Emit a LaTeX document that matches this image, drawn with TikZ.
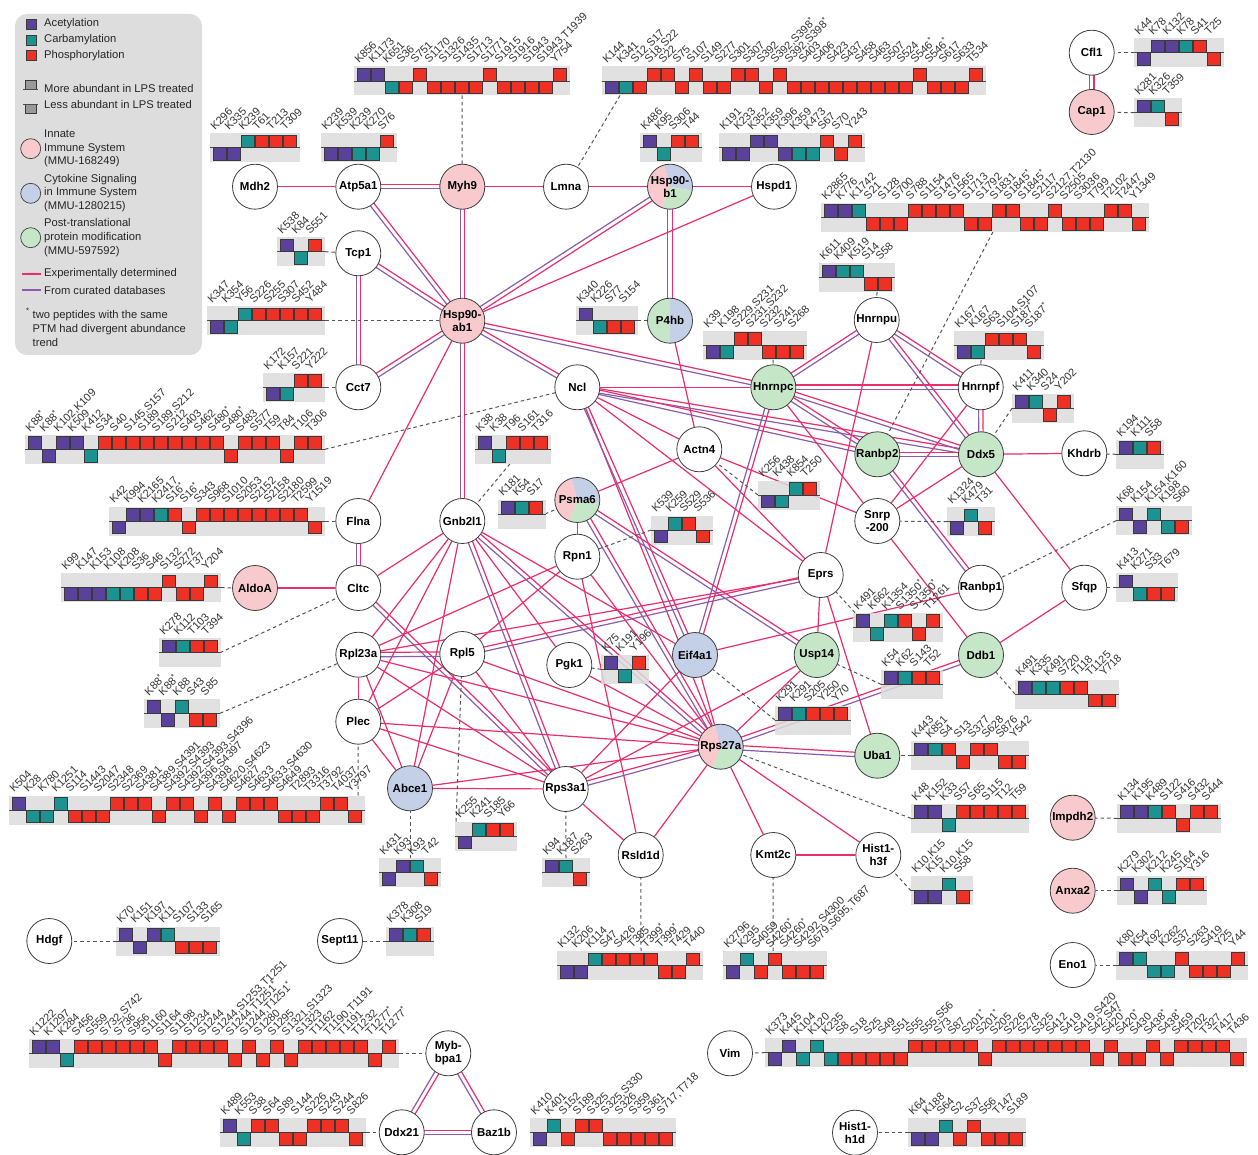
\documentclass[tikz,border=0pt]{standalone}
\usepackage{fontspec}
\setmainfont{Liberation Sans}
\usetikzlibrary{calc}
\pgfdeclarelayer{bg}
\pgfsetlayers{bg,main}
\definecolor{A}{HTML}{5A4199}
\definecolor{C}{HTML}{1A9391}
\definecolor{P}{HTML}{EE3124}
\definecolor{bargray}{HTML}{DCDCDC}
\definecolor{legendgray}{HTML}{DDDDDD}
\definecolor{npink}{HTML}{F8CACD}
\definecolor{nblue}{HTML}{C4CFE8}
\definecolor{ngreen}{HTML}{C6E7C7}
\definecolor{epink}{HTML}{EA2D6C}
\definecolor{epurple}{HTML}{8A5CB0}
\definecolor{nborder}{HTML}{3F3F3F}
\definecolor{dashgray}{HTML}{555555}
\definecolor{lblgray}{HTML}{333333}
\definecolor{boxedge}{HTML}{3A3A3A}
\newcommand\astr{\textsuperscript{*}}
\newcommand\nodefont{\bfseries\fontsize{11.5}{13}\selectfont}
\newcommand\lblfont{\fontsize{11}{11}\selectfont}
\newcommand\legfont{\fontsize{11.2}{13.8}\selectfont}
\tikzset{
 nd/.style={circle, draw=nborder, line width=0.8pt, fill=white, minimum size=45pt, inner sep=0pt, font=\nodefont, align=center, text=black},
 lbl/.style={font=\lblfont, text=lblgray, inner sep=0pt, anchor=base west, rotate=45},
 midln/.style={draw=black!70, line width=0.7pt},
 pinkE/.style={draw=epink, line width=1.2pt},
 purpE/.style={draw=epurple, line width=1.2pt},
 dsh/.style={draw=dashgray, line width=1pt, dash pattern=on 3.5pt off 3pt},
 legtxt/.style={font=\legfont, anchor=west, inner sep=0pt, text=black!85, align=left}
}
\newcommand\ptmbar[4]{%
  \fill[bargray, fill opacity=0.85] (#1,{#2-14.5}) rectangle ++({#3*14+6},29);
  \draw[midln] (#1,#2) -- ++({#3*14+6},0);
  \foreach \ty/\po/\la [count=\ix] in {#4} {%
    \filldraw[fill=\ty, draw=boxedge, line width=0.6pt] ({#1+3.7+(\ix-1)*14},{#2-12.6*\po}) rectangle ++(12.6,12.6);
    \node[lbl] at ({#1+5+(\ix-1)*14},{#2-17}) {\la};
  }%
}
\newcommand\trisect[2]{%
 \fill[nblue] (#1,#2) -- ++(10:22.5) arc[start angle=10, end angle=-105, radius=22.5] -- cycle;
 \fill[npink] (#1,#2) -- ++(-105:22.5) arc[start angle=-105, end angle=-250, radius=22.5] -- cycle;
 \fill[ngreen] (#1,#2) -- ++(-250:22.5) arc[start angle=-250, end angle=-350, radius=22.5] -- cycle;}
\newcommand\halfsect[2]{%
 \fill[ngreen] (#1,#2) -- ++(-90:22.5) arc[start angle=-90, end angle=-270, radius=22.5] -- cycle;
 \fill[nblue] (#1,#2) -- ++(90:22.5) arc[start angle=90, end angle=-90, radius=22.5] -- cycle;}
\newcommand\EP[2]{\draw[pinkE] (#1) -- (#2);}
\newcommand\EU[2]{\draw[purpE] (#1) -- (#2);}
\newcommand\EB[2]{\draw[pinkE] ($(#1)!2.2pt!90:(#2)$) -- ($(#2)!2.2pt!-90:(#1)$);
 \draw[purpE] ($(#1)!2.2pt!-90:(#2)$) -- ($(#2)!2.2pt!90:(#1)$);}
\newcommand\dconn[4]{\coordinate (#1) at (#2,#3); \draw[dsh] (#1) -- (#4);}
\begin{document}
\begin{tikzpicture}[x=1pt,y=-1pt]
\useasboundingbox (0,0) rectangle (1258,1155);
\begin{pgfonlayer}{bg}
\fill[white] (0,0) rectangle (1258,1155);
\end{pgfonlayer}
% ---------------- legend
\fill[legendgray, rounded corners=12pt] (15,14) rectangle (202,355);
\filldraw[fill=A, draw=boxedge, line width=0.6pt] (26,19.3) rectangle (36,29.3);
\node[legtxt] (lgA) at (44,24) {Acetylation};
\filldraw[fill=C, draw=boxedge, line width=0.6pt] (26,35) rectangle (36,45);
\node[legtxt] (lgC) at (44,40) {Carbamylation};
\filldraw[fill=P, draw=boxedge, line width=0.6pt] (26,50.5) rectangle (36,60.5);
\node[legtxt] (lgP) at (44,55.5) {Phosphorylation};
\filldraw[fill=black!40, draw=boxedge, line width=0.6pt] (25.5,80) rectangle (36,89.3);
\draw[midln] (23,89.3) -- (38,89.3);
\node[legtxt] (lgM) at (44,89) {More abundant in LPS treated};
\filldraw[fill=black!40, draw=boxedge, line width=0.6pt] (25.5,104) rectangle (36,113.3);
\draw[midln] (23,104) -- (38,104);
\node[legtxt] (lgL) at (44,104.3) {Less abundant in LPS treated};
\filldraw[fill=npink, draw=nborder, line width=0.7pt] (30.7,148.7) circle[radius=10];
\node[legtxt] (lg1) at (44,148.5) {Innate\\Immune System\\(MMU-168249)};
\filldraw[fill=nblue, draw=nborder, line width=0.7pt] (30.7,193.3) circle[radius=10];
\node[legtxt] (lg2) at (44,193) {Cytokine Signaling\\in Immune System\\(MMU-1280215)};
\filldraw[fill=ngreen, draw=nborder, line width=0.7pt] (30.7,237.7) circle[radius=10];
\node[legtxt] (lg3) at (44,237.7) {Post-translational\\protein modification\\(MMU-597592)};
\draw[pinkE] (22,274) -- (41,274);
\node[legtxt] (lg4) at (44,274) {Experimentally determined};
\draw[purpE] (22,290) -- (41,290);
\node[legtxt] (lg5) at (44,290) {From curated databases};
\node[legtxt] (lg6) at (26,313) {\textsuperscript{*}};
\node[legtxt] (lg7) at (32.5,328.5) {two peptides with the same\\PTM had divergent abundance\\trend};
% ---------------- PTM bars
\ptmbar{210}{147.7}{6}{A/0/K296,A/0/K335,C/1/K239,P/1/T61,P/1/T213,P/1/T309}
\ptmbar{321}{147.7}{5}{A/0/K239,A/0/K539,C/0/K239,C/0/K270,P/1/S76}
\ptmbar{354}{81}{15}{A/1/K856,A/1/K1173,C/0/K651,P/0/S36,P/1/S751,P/0/S1170,P/0/S1326,P/0/S1435,P/0/S1713,P/1/S1771,P/0/S1915,P/0/S1916,P/0/S1943,P/0/{S1943,T1939},P/1/Y754}
\ptmbar{602}{81}{27}{A/0/K144,C/0/K341,P/0/{S12,S17},P/1/{S18,S22},P/1/S22,P/0/S75,P/1/S107,P/0/S149,P/0/S277,P/1/S301,P/1/S307,P/0/S392,P/1/{S392,S398\astr},P/0/{S392,S398\astr},P/0/S403,P/0/S406,P/0/S423,P/0/S437,P/0/S458,P/0/S463,P/0/S507,P/0/S524,P/1/S546\astr,P/0/S546\astr,P/0/S617,P/0/S633,P/1/T534}
\ptmbar{640}{147.7}{4}{A/1/K486,C/0/K95,P/1/S306,P/1/T44}
\ptmbar{719}{147.7}{10}{A/0/K191,A/0/K233,A/1/K352,A/1/K359,A/0/K396,C/0/K359,C/0/K473,P/1/S67,P/0/S70,P/1/Y243}
\ptmbar{1134}{52.7}{6}{A/0/K44,A/1/K78,A/1/K132,C/1/K78,P/1/S41,P/0/T25}
\ptmbar{1134}{112.7}{3}{A/1/K281,C/1/K326,P/0/T359}
\ptmbar{277}{251.7}{3}{A/1/K538,C/0/K84,P/1/S551}
\ptmbar{207}{320.7}{8}{A/0/K347,C/0/K354,C/1/Y56,P/1/S226,P/1/S255,P/1/S307,P/1/S452,P/1/Y484}
\ptmbar{263}{387.3}{4}{A/0/K172,C/0/K157,P/1/S221,P/1/Y222}
\ptmbar{25}{449.3}{21}{A/1/K88\astr,A/0/K88\astr,A/1/{K102,K109},A/1/K509,C/0/K412,P/1/S34,P/1/S40,P/1/{S145,S157},P/1/S189,P/1/{S189,S212},P/1/S212,P/1/S403,P/1/S462,P/1/S480\astr,P/0/S480\astr,P/1/S483,P/1/S577,P/1/T59,P/0/T84,P/1/T106,P/1/T306}
\ptmbar{109}{521}{15}{A/0/K42,A/1/K994,A/1/K2165,C/1/K2417,P/1/S16\astr,P/0/S16\astr,P/1/S343,P/1/S968,P/1/S1010,P/1/S2053,P/1/S2152,P/1/S2158,P/1/S2180,P/1/T2599,P/0/Y1519}
\ptmbar{61}{587.7}{11}{A/0/K99,A/0/K147,A/0/K153,C/0/K108,C/0/K208,P/0/S36,P/0/S46,P/1/S132,P/0/S272,P/0/T37,P/1/Y204}
\ptmbar{159}{652.7}{4}{A/1/K278,C/1/K112,P/1/T103,P/1/T394}
\ptmbar{144}{713.3}{5}{A/1/K88\astr,A/0/K88\astr,C/1/K88,P/0/S43,P/0/S85}
\ptmbar{9}{810}{25}{A/1/K504,C/0/K28,C/0/K780,C/1/K1251,P/0/S114,P/0/S1443,P/0/S2047,P/1/S2348,P/1/S2369,P/1/S4381,P/0/{S4389,S4391},P/1/{S4392,S4393},P/1/{S4392,S4393,S4396},P/0/{S4396,S4397},P/1/S4398,P/0/{S4620,S4623},P/1/S4627,P/1/S4633,P/1/{S4633,S4630},P/0/S4649,P/0/T2893,P/0/T3316,P/1/T3792,P/1/T4037,P/0/Y3797}
\ptmbar{379}{872.7}{4}{A/0/K431,A/1/K93,C/1/K93,P/0/T42}
\ptmbar{455}{836}{4}{A/0/K255,C/1/K241,P/1/S185,P/1/Y66}
\ptmbar{542}{872.7}{3}{A/1/K94,C/1/K187,P/0/S263}
\ptmbar{386}{941}{3}{A/1/K378,C/1/K308,P/1/S19}
\ptmbar{116}{941}{7}{A/1/K70,A/0/K151,A/1/K197,C/1/K11,P/0/S107,P/0/S133,P/0/S165}
\ptmbar{29}{1053.3}{26}{A/1/K1222,A/1/K1297,C/0/K284,P/1/S456,P/1/S559,P/1/{S732,S742},P/1/S736,P/1/S956,P/1/S1160,P/0/S1164,P/1/S1198,P/1/S1234,P/1/S1244,P/1/{S1244,S1253,T1251},P/0/{S1244,T1251\astr},P/1/{S1244,T1251\astr},P/0/S1280,P/1/S1295,P/0/{S1321,S1323},P/1/S1323,P/1/T1162,P/1/{T1190,T1191},P/1/T1191,P/1/T1232,P/0/T1277\astr,P/1/T1277\astr}
\ptmbar{220}{1132.3}{10}{A/1/K489,C/0/K553,P/1/S38,P/1/S64,P/0/S89,P/0/S144,P/1/S226,P/1/S243,P/1/S244,P/0/S826}
\ptmbar{530}{1132.3}{10}{A/0/K410,C/1/K401,P/0/S152,P/1/S189,P/1/S325,P/0/{S325,S330},P/0/S326,P/0/S359,P/0/S361,P/0/{S717,T718}}
\ptmbar{557}{965.7}{10}{A/0/K132,A/0/K206,C/1/K114,P/1/S47,P/1/S426,P/1/T385,P/1/T399\astr,P/0/T399\astr,P/0/T429,P/1/T440}
\ptmbar{723}{965.7}{7}{A/0/K2796,C/1/K295,P/0/S4059,P/1/S4260\astr,P/0/S4260\astr,P/0/{S4292,S4300},P/0/{S679,S695,T687}}
\ptmbar{911}{890.7}{4}{A/0/{K10,K15},A/0/K15,C/1/{K10,K15},P/0/S58}
\ptmbar{911}{755.7}{8}{A/1/K443,C/1/K851,P/1/S4,P/0/S13,P/1/S377,P/1/S628,P/0/S876,P/0/Y542}
\ptmbar{911}{818.3}{8}{A/1/K48,A/1/K152,C/0/K33,P/1/S57,P/1/S65,P/1/S115,P/1/T12,P/1/T59}
\ptmbar{1117}{818.3}{7}{A/1/K134,A/1/K195,C/1/K489,P/1/S122,P/0/S416,P/1/S432,P/1/S444}
\ptmbar{1117}{890.7}{6}{A/1/K279,A/0/K302,C/1/K212,C/0/K245,P/1/S164,P/1/Y316}
\ptmbar{1116}{965}{9}{A/1/K80,C/1/K54,C/0/K92,C/0/K262,P/1/S37,P/0/S263,P/0/S419,P/0/Y25,P/1/Y44}
\ptmbar{908}{1132.7}{8}{A/0/K64,A/0/K188,C/1/S64,P/0/S2,P/1/S37,P/0/S56,P/0/T147,P/0/S189}
\ptmbar{765}{1052.7}{34}{A/0/K373,A/1/K445,C/0/K104,C/1/K120,C/0/K235,P/0/S8,P/0/S18,P/0/S25,P/0/S49,P/0/S51,P/1/S55,P/1/{S55,S56},P/1/S73,P/1/S87,P/1/S201\astr,P/0/S201\astr,P/1/S205,P/1/S226,P/1/S278,P/1/S325,P/1/S412,P/1/S419,P/1/{S419,S420},P/0/{S42,S47},P/1/S420\astr,P/0/S420\astr,P/0/S430,P/1/S438\astr,P/0/S438\astr,P/1/S459,P/1/T202,P/1/T327,P/1/T417,P/0/T436}
\ptmbar{821}{217.3}{23}{A/1/K2865,A/1/K776,C/1/K1742,P/0/S21,P/0/S128,P/0/S700,P/1/S788,P/1/S1154,P/1/S1476,P/1/S1565,P/0/S1713,P/0/S1792,P/1/S1831,P/1/S1845\astr,P/0/S1845\astr,P/0/S2117,P/1/{S2127,T2130},P/0/S2505,P/0/S3036,P/0/T799,P/1/T2102,P/1/T2447,P/0/Y1349}
\ptmbar{819}{277.7}{5}{A/1/K611,C/1/K409,C/1/K519,P/0/S14,P/0/S58}
\ptmbar{703}{345.3}{7}{A/0/K39,C/0/K198,P/1/{S229,S231},P/1/{S231,S232},P/0/S232,P/0/S241,P/0/S268}
\ptmbar{954}{345.7}{6}{A/0/K167,C/0/K167,P/1/S63,P/1/{S104,S107},P/1/S187\astr,P/0/S187\astr}
\ptmbar{576}{320.7}{4}{A/1/K340,C/0/K226,P/0/S77,P/0/S154}
\ptmbar{1012}{408.3}{4}{A/1/K411,C/1/K340,P/0/S24,P/1/Y202}
\ptmbar{1116}{454.3}{3}{A/1/K194,C/1/K111,P/1/S58}
\ptmbar{947}{521.7}{3}{A/0/K1324,C/1/K479,P/0/T31}
\ptmbar{1116}{520.7}{5}{A/1/K68,A/0/K154,C/1/{K154,K160},C/0/K198,P/0/S60}
\ptmbar{1116}{587.7}{4}{A/1/K413,C/0/K271,P/0/S33,P/0/T679}
\ptmbar{853}{627.3}{6}{A/1/K491,C/0/K662,C/1/K1354,P/1/S1350\astr,P/0/S1350\astr,P/1/T1261}
\ptmbar{881}{684.3}{4}{A/1/K54,C/1/K62,P/1/S143,P/1/T52}
\ptmbar{1015}{694}{7}{A/1/K491,C/1/K335,C/1/K491,P/1/S720,P/1/T118,P/0/T1125,P/0/Y718}
\ptmbar{775}{720}{5}{A/1/K291,C/1/K291,P/1/S205,P/1/Y250,P/1/Y70}
\ptmbar{758}{495}{4}{A/0/K256,C/0/K438,C/1/K854,P/1/T250}
\ptmbar{651}{530}{4}{A/0/K539,C/1/K259,P/1/S529,P/0/S536}
\ptmbar{498}{514}{3}{A/1/K181,C/1/K54,P/1/S17}
\ptmbar{475}{449.3}{5}{A/1/K38,C/0/K38,P/1/T96,P/1/S161,P/1/T316}
\ptmbar{601}{669.3}{3}{A/1/K75,C/0/K191,P/1/Y196}
% ---------------- nodes
\node[nd] (mdh2) at (255,186.7) {Mdh2};
\node[nd] (atp) at (358.3,186.7) {Atp5a1};
\node[nd, fill=npink] (myh9) at (462.3,186.7) {Myh9};
\node[nd] (lmna) at (566,186.7) {Lmna};
\trisect{670}{186.7}
\node[nd, fill=none] (hspb) at (670,186.7) {Hsp90-\\b1};
\node[nd] (hspd) at (774,186.7) {Hspd1};
\node[nd] (cfl) at (1091.7,52.7) {Cfl1};
\node[nd, fill=npink] (cap) at (1091.7,112) {Cap1};
\node[nd] (tcp) at (358.3,253.3) {Tcp1};
\node[nd, fill=npink] (hspab) at (462.3,320.7) {Hsp90-\\ab1};
\halfsect{670}{320.7}
\node[nd, fill=none] (p4hb) at (670,320.7) {P4hb};
\node[nd] (hnrnpu) at (876.7,320) {Hnrnpu};
\node[nd] (cct) at (358.3,387.3) {Cct7};
\node[nd] (ncl) at (577.3,387.3) {Ncl};
\node[nd, fill=ngreen] (hnrnpc) at (773.3,387.3) {Hnrnpc};
\node[nd] (hnrnpf) at (980.7,387.3) {Hnrnpf};
\node[nd] (actn) at (699.3,449.3) {Actn4};
\node[nd, fill=ngreen] (ranbpb) at (877.3,454.3) {Ranbp2};
\node[nd, fill=ngreen] (ddx5) at (981,454.3) {Ddx5};
\node[nd] (khdrb) at (1084.3,453.3) {Khdrb};
\node[nd] (flna) at (358.3,521) {Flna};
\node[nd] (gnb) at (462.3,521) {Gnb2l1};
\trisect{577.3}{500}
\node[nd, fill=none] (psma) at (577.3,500) {Psma6};
\node[nd] (snrp) at (877.3,521) {Snrp\\-200};
\node[nd] (rpn) at (577.3,556.7) {Rpn1};
\node[nd] (eprs) at (820.7,575) {Eprs};
\node[nd] (cltc) at (358.3,588) {Cltc};
\node[nd, fill=npink] (aldoa) at (255,588) {AldoA};
\node[nd] (ranbpa) at (981,587.7) {Ranbp1};
\node[nd] (sfqp) at (1084.3,587.7) {Sfqp};
\node[nd] (rpla) at (358.3,654.7) {Rpl23a};
\node[nd] (rplb) at (462.3,654) {Rpl5};
\node[nd] (pgk) at (569.3,665) {Pgk1};
\node[nd, fill=nblue] (eif) at (695,655) {Eif4a1};
\node[nd, fill=ngreen] (usp) at (816.7,655) {Usp14};
\node[nd, fill=ngreen] (ddb) at (981,655) {Ddb1};
\node[nd] (plec) at (358.3,721.7) {Plec};
\trisect{720.7}{746.7}
\node[nd, fill=none] (rps27) at (720.7,746.7) {Rps27a};
\node[nd, fill=ngreen] (uba) at (877.3,755.7) {Uba1};
\node[nd, fill=nblue] (abce) at (410,788.3) {Abce1};
\node[nd] (rps3) at (565.7,789) {Rps3a1};
\node[nd, fill=npink] (impdh) at (1072.7,817.7) {Impdh2};
\node[nd] (rsld) at (640.7,855) {Rsld1d};
\node[nd] (kmt) at (773.3,855) {Kmt2c};
\node[nd] (hist3) at (878.3,855) {Hist1-\\h3f};
\node[nd, fill=npink] (anxa) at (1072.7,890.7) {Anxa2};
\node[nd] (hdgf) at (49.3,941) {Hdgf};
\node[nd] (sept) at (340,941) {Sept11};
\node[nd] (eno) at (1072.7,965) {Eno1};
\node[nd] (myb) at (448.3,1053.3) {Myb-\\bpa1};
\node[nd] (vim) at (730,1053.3) {Vim};
\node[nd] (ddxb) at (401.7,1132.3) {Ddx21};
\node[nd] (baz) at (494,1132.3) {Baz1b};
\node[nd] (hist1) at (855,1132.7) {Hist1-\\h1d};
% ---------------- edges
\begin{pgfonlayer}{bg}
\EP{mdh2}{atp} \EB{atp}{myh9} \EP{myh9}{lmna} \EP{lmna}{hspb} \EP{hspb}{hspd}
\EB{atp}{hspab} \EB{myh9}{hspab} \EB{hspb}{hspab} \EP{hspd}{hspab} \EB{hspb}{p4hb}
\EB{cfl}{cap}
\EB{tcp}{hspab} \EB{tcp}{cct} \EB{cct}{hspab}
\EB{hspab}{ncl} \EB{hspab}{hnrnpc} \EB{hspab}{gnb} \EP{hspab}{flna}
\EP{ncl}{hnrnpc} \EP{ncl}{actn} \EP{ncl}{eprs} \EP{ncl}{rps27} \EB{ncl}{ddx5} \EB{ncl}{ranbpb} \EB{ncl}{eif}
\EP{p4hb}{actn} \EP{psma}{actn} \EP{actn}{eprs} \EP{actn}{snrp}
\EB{hnrnpc}{hnrnpu} \EB{hnrnpc}{hnrnpf} \EB{hnrnpc}{ddx5} \EB{hnrnpc}{ranbpb} \EB{hnrnpc}{eif} \EP{hnrnpc}{snrp}
\EB{hnrnpu}{hnrnpf} \EB{hnrnpu}{ddx5} \EP{hnrnpu}{eprs}
\EB{hnrnpf}{ddx5} \EP{hnrnpf}{snrp}
\EB{ranbpb}{ddx5} \EB{ranbpb}{ranbpa}
\EP{ddx5}{snrp} \EP{ddx5}{khdrb} \EP{ddx5}{sfqp}
\EP{snrp}{ddb} \EP{sfqp}{ddb}
\EP{eprs}{usp} \EP{eprs}{uba} \EP{rpla}{eprs} \EB{rplb}{eprs}
\EP{eif}{ranbpa}
\EU{psma}{rpn} \EB{psma}{usp} \EB{psma}{rps27}
\EB{flna}{cltc} \EP{cltc}{aldoa} \EP{cltc}{gnb} \EB{cltc}{rps3}
\EP{gnb}{rpla} \EP{gnb}{plec} \EP{gnb}{abce} \EP{gnb}{pgk} \EP{gnb}{eif} \EB{gnb}{rps3} \EB{gnb}{rps27}
\EP{rpn}{rplb} \EP{rpn}{rpla} \EP{rpn}{rps27} \EP{rpn}{rsld}
\EB{rpla}{rplb} \EP{rpla}{plec} \EP{rpla}{abce} \EP{rpla}{rps3} \EP{rpla}{rps27}
\EP{rplb}{rps3} \EP{rplb}{rps27} \EP{rplb}{abce} \EP{rplb}{plec}
\EP{plec}{abce} \EP{plec}{rps3} \EP{plec}{rps27}
\EP{abce}{rps3} \EP{abce}{rps27}
\EB{rps3}{rps27} \EP{rps3}{rsld} \EP{rps3}{eif} \EP{rps3}{usp}
\EP{rps27}{eif} \EP{rps27}{usp} \EB{rps27}{uba} \EB{rps27}{ddb} \EP{rps27}{rsld} \EP{rps27}{kmt} \EP{rps27}{hist3} \EP{rps27}{pgk}
\EP{kmt}{hist3}
\EB{myb}{ddxb} \EB{myb}{baz} \EB{ddxb}{baz}
% dashed links to PTM bars
\dconn{cMyh}{462}{95.5}{myh9}
\dconn{cLmna}{620}{95.5}{lmna}
\dconn{cTcp}{325}{251.7}{tcp}
\dconn{cHspab}{325}{320.7}{hspab}
\dconn{cCct}{325}{387.3}{cct}
\dconn{cNcl}{325}{449.3}{ncl}
\dconn{cFlna}{325}{521}{flna}
\dconn{cAldo}{221}{587.7}{aldoa}
\dconn{cCltc}{220}{652.7}{cltc}
\dconn{cRpla}{220}{713.3}{rpla}
\dconn{cPlec}{358}{795.5}{plec}
\dconn{cAbce}{410}{858.2}{abce}
\dconn{cRplb}{456}{821.5}{rplb}
\dconn{cRps3}{566}{858.2}{rps3}
\dconn{cGnb}{510}{463.8}{gnb}
\dconn{cPsma}{545}{514}{psma}
\dconn{cP4hb}{637}{320.7}{p4hb}
\dconn{cHnc}{773}{359.8}{hnrnpc}
\dconn{cHnu}{877}{292.2}{hnrnpu}
\dconn{cHnf}{981}{360.2}{hnrnpf}
\dconn{cRanb}{993}{231.8}{ranbpb}
\dconn{cDdx}{1012}{408.3}{ddx5}
\dconn{cKhd}{1116}{454.3}{khdrb}
\dconn{cActn}{758}{495}{actn}
\dconn{cSnrp}{947}{521.7}{snrp}
\dconn{cRpn}{651}{530}{rpn}
\dconn{cRana}{1116}{520.7}{ranbpa}
\dconn{cSfqp}{1116}{587.7}{sfqp}
\dconn{cEprs}{855}{612.8}{eprs}
\dconn{cUsp}{881}{684.3}{usp}
\dconn{cDdb}{1015}{694}{ddb}
\dconn{cPgk}{601}{669.3}{pgk}
\dconn{cEif}{775}{720}{eif}
\dconn{cUba}{911}{755.7}{uba}
\dconn{cRps27}{911}{818.3}{rps27}
\dconn{cHist3}{911}{890.7}{hist3}
\dconn{cImp}{1117}{818.3}{impdh}
\dconn{cAnx}{1117}{890.7}{anxa}
\dconn{cEno}{1116}{965}{eno}
\dconn{cRsld}{641}{951.2}{rsld}
\dconn{cKmt}{773}{951.2}{kmt}
\dconn{cHdgf}{116}{941}{hdgf}
\dconn{cSept}{386}{941}{sept}
\dconn{cMyb}{399}{1053.3}{myb}
\dconn{cDdxb}{366}{1132.3}{ddxb}
\dconn{cVim}{765}{1052.7}{vim}
\dconn{cHist1}{908}{1132.7}{hist1}
\dconn{cCfl}{1134}{52.7}{cfl}
\dconn{cCap}{1134}{112.7}{cap}
\end{pgfonlayer}
\end{tikzpicture}
\end{document}
